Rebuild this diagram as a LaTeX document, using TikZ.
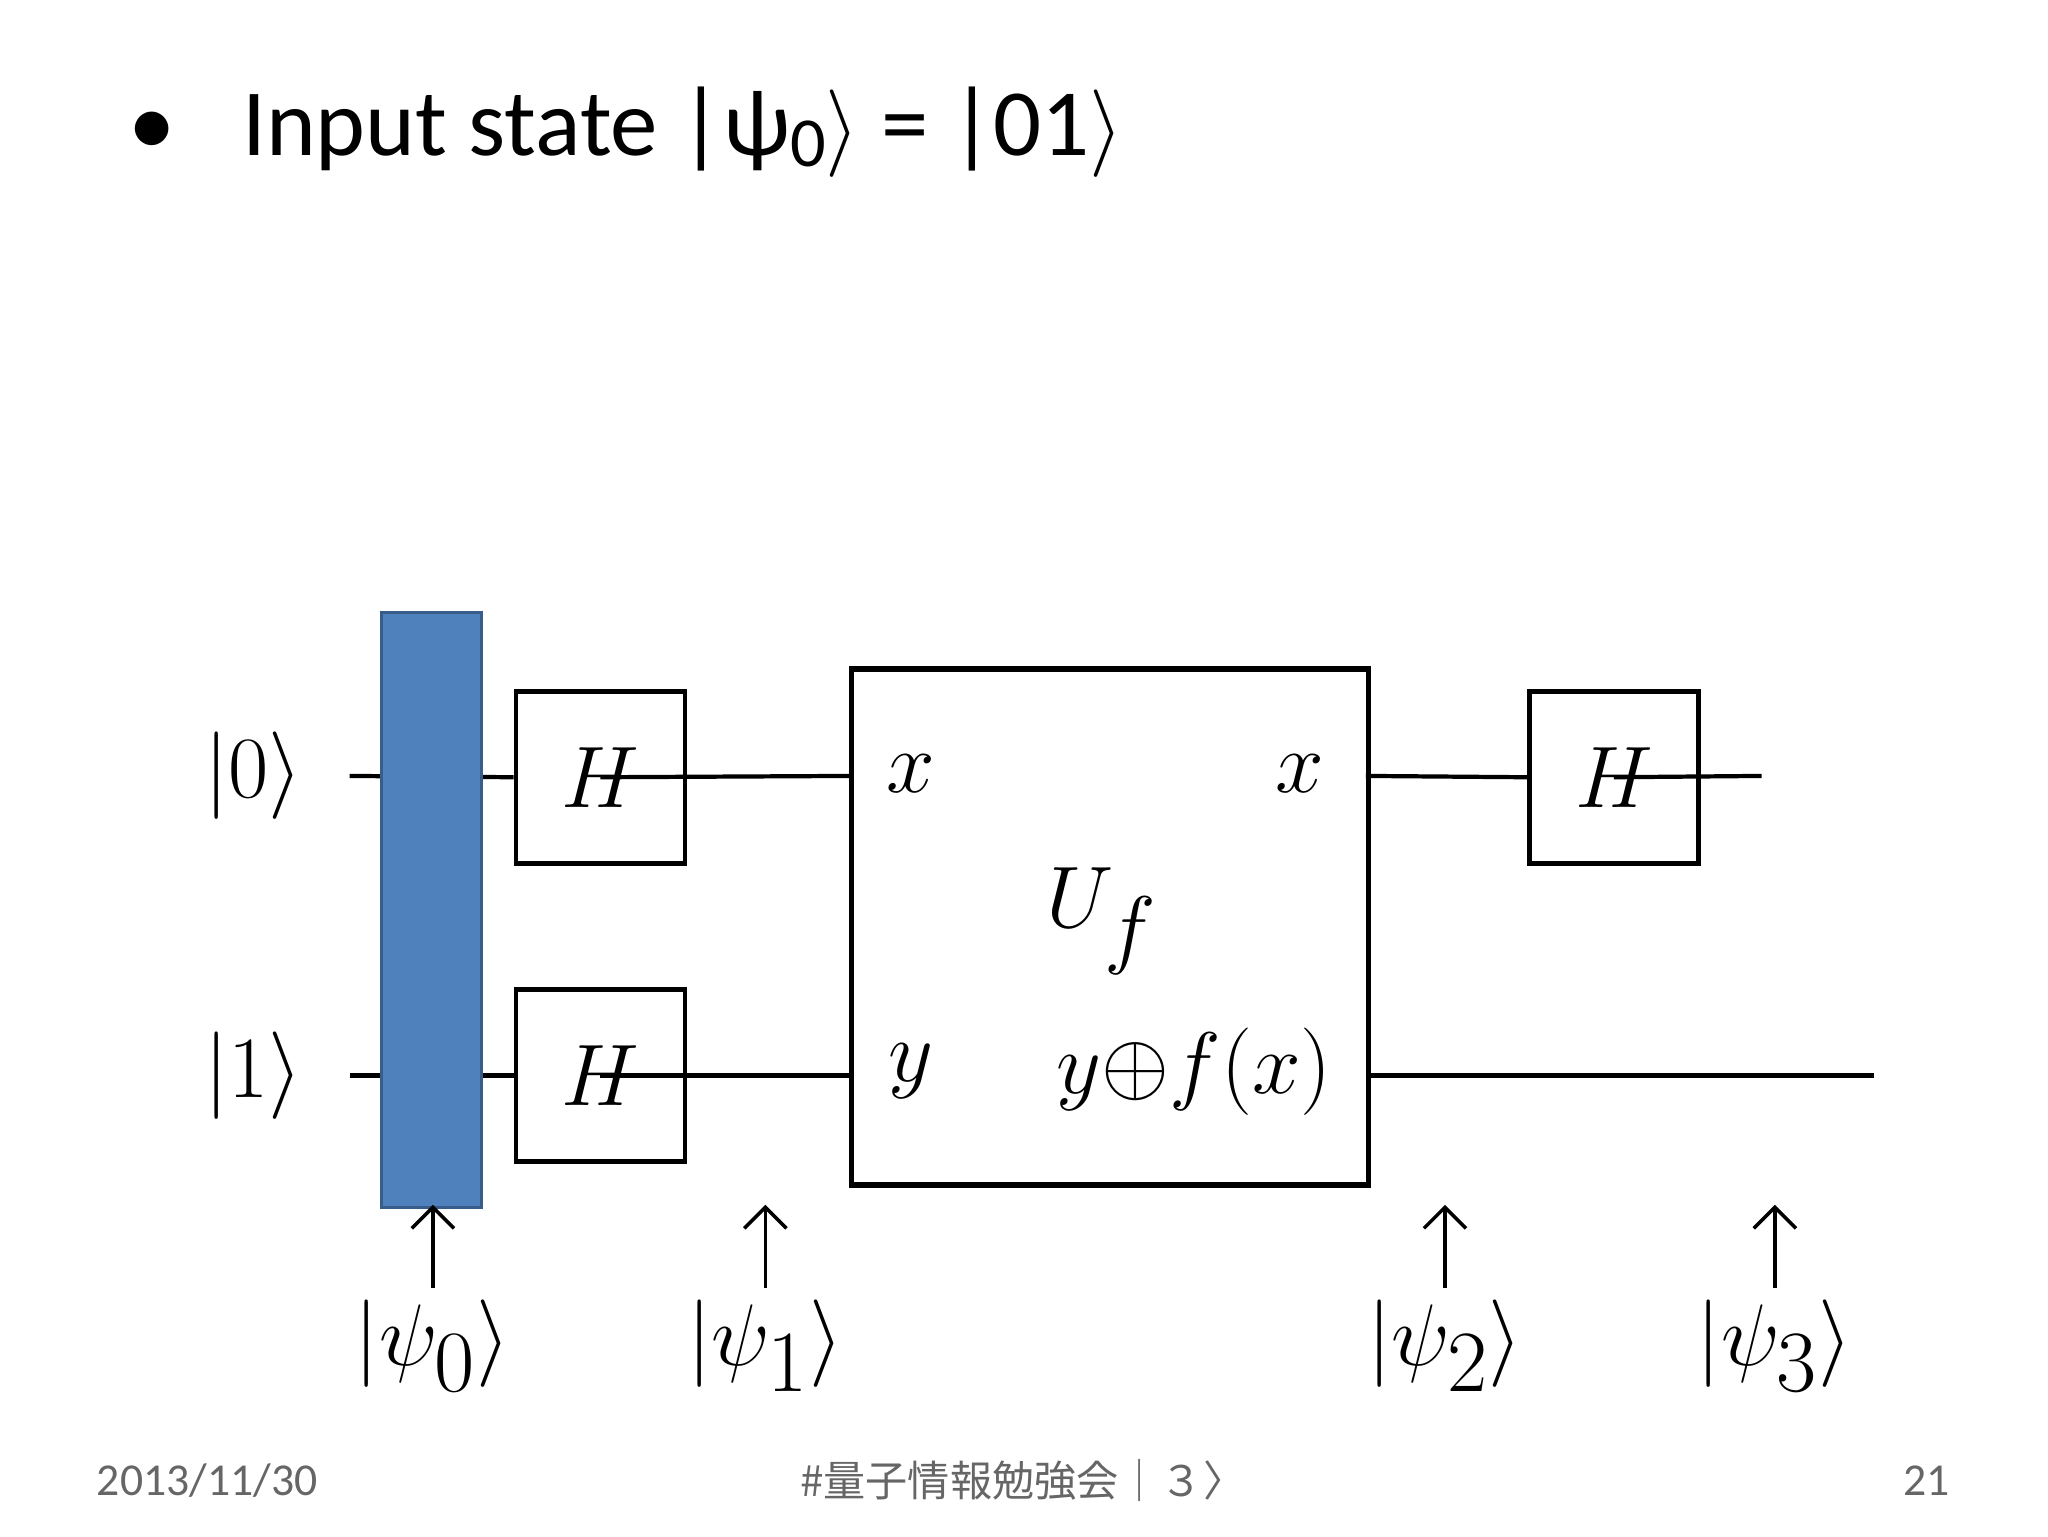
\documentclass[tikz,border=0pt]{standalone}
\usepackage{fontspec}
\usepackage{amsmath}
\setmainfont{Latin Modern Roman}
\newfontfamily\titlefont{Carlito}
\newfontfamily\cjk{Noto Sans CJK JP}
\usetikzlibrary{arrows.meta}
\definecolor{barblue}{HTML}{4F81BD}
\definecolor{baredge}{HTML}{385D8A}
\tikzset{
  gate/.style={draw,line width=1.3pt,minimum width=1.69cm,minimum height=1.72cm,inner sep=0pt,font=\fontsize{40}{44}\selectfont},
  ket/.style={font=\fontsize{40}{44}\selectfont},
  foot/.style={font=\titlefont\fontsize{13}{15}\selectfont,text=black!60},
  wire/.style={line width=1.2pt},
  up/.style={-{Straight Barb[length=6pt]},line width=1pt}
}
\begin{document}
\begin{tikzpicture}[x=0.0132cm,y=-0.0132cm]
\useasboundingbox (0,0) rectangle (1552,1164);
% title
\node[anchor=west,font=\titlefont\fontsize{27}{30}\selectfont] (title) at (88,100) {\textbullet\hspace{0.7em}Input state |ψ\raisebox{-0.25ex}{\fontsize{20}{20}\selectfont 0}$\rangle$ = |01$\rangle$};
% inputs
\node[ket] (in0) at (192,588) {$|0\rangle$};
\node[ket] (in1) at (192,815) {$|1\rangle$};
\coordinate (w0s) at (265,588);
\coordinate (w1s) at (265,815);
% gates
\node[gate] (h0) at (455,589) {$H$};
\node[gate] (h1) at (455,815) {$H$};
\node[gate] (h2) at (1223,589) {$H$};
\draw[line width=1.5pt] (645,507) rectangle (1037,898);
\coordinate (uin0) at (645,588);
\coordinate (uin1) at (645,815);
\coordinate (uout0) at (1035,588);
\coordinate (uout1) at (1035,815);
\coordinate (w0e) at (1335,588);
\coordinate (w1e) at (1420,815);
\draw[wire] (w0s) -- (h0.west);
\draw[wire] (h0.center) -- (uin0);
\draw[wire] (w1s) -- (h1.west);
\draw[wire] (h1.center) -- (uin1);
\draw[wire] (uout0) -- (h2.west);
\draw[wire] (h2.center) -- (w0e);
\draw[wire] (uout1) -- (w1e);
% barrier
\draw[baredge,fill=barblue,thick] (289,464) rectangle (365,915);
% labels in U_f
\node[font=\fontsize{30}{34}\selectfont] (ux0) at (690,586) {$x$};
\node[font=\fontsize{30}{34}\selectfont] (ux1) at (985,586) {$x$};
\node[font=\fontsize{30}{34}\selectfont] (uy0) at (690,812) {$y$};
\node[font=\fontsize{30}{34}\selectfont] (uy1) at (905,812) {$y{\oplus}f(x)$};
\node[font=\fontsize{40}{44}\selectfont] (uf) at (835,698) {$U_f$};
% states
\foreach \i/\x in {0/328,1/580,2/1095,3/1345}{
  \node[ket] (psi\i) at (\x,1020) {$|\psi_\i\rangle$};
  \coordinate (top\i) at (\x,913);
  \draw[up] (psi\i.north) -- (top\i);
}
% footer
\node[foot] (date) at (157,1122) {2013/11/30};
\node[foot] (mid) at (775,1122) {\cjk\fontsize{12}{14}\selectfont \#量子情報勉強会｜３〉};
\node[foot] (page) at (1460,1122) {21};
\end{tikzpicture}
\end{document}
